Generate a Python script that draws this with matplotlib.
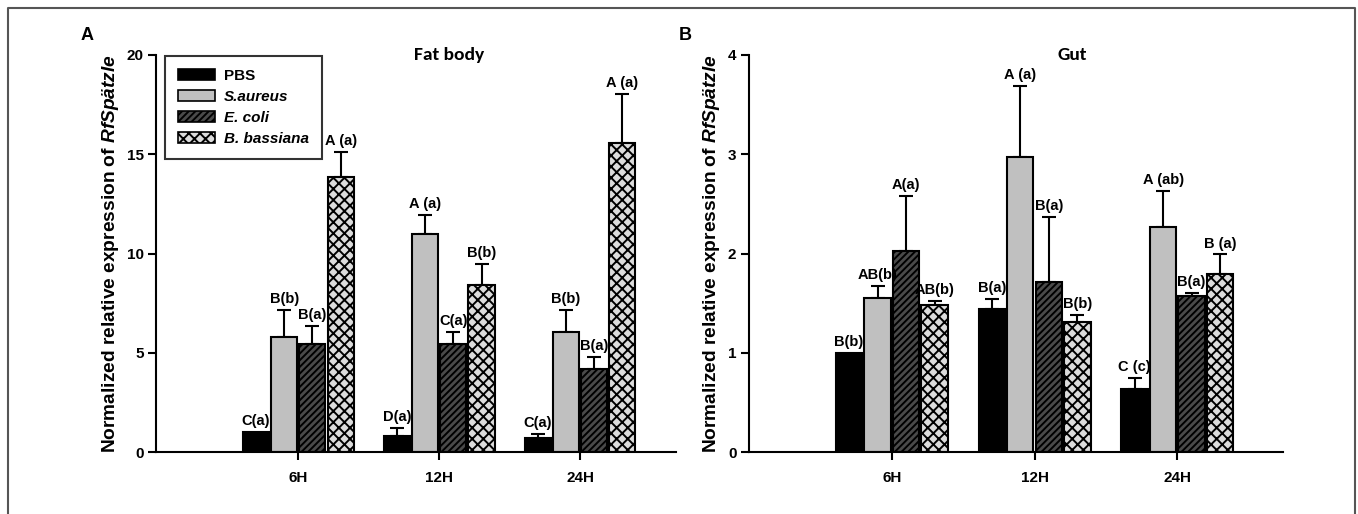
import numpy as np
import matplotlib
matplotlib.use("Agg")
import matplotlib.pyplot as plt
from matplotlib.patches import Patch
from matplotlib.lines import Line2D

plt.rcParams['font.family'] = ['Liberation Sans', 'DejaVu Sans']
plt.rcParams['mathtext.fontset'] = 'custom'
plt.rcParams['mathtext.it'] = 'Liberation Sans:italic:bold'
plt.rcParams['mathtext.rm'] = 'Liberation Sans:bold'
plt.rcParams['hatch.linewidth'] = 1.4

timepoints = ["6H", "12H", "24H"]
treatments = ["PBS", "S.aureus", "E. coli", "B. bassiana"]

# Fat body (panel A)
fat_mean = {
    "PBS":         [1.00, 0.82, 0.72],
    "S.aureus":    [5.80, 10.96, 6.05],
    "E. coli":     [5.46, 5.46, 4.17],
    "B. bassiana": [13.83, 8.40, 15.55],
}
fat_err = {
    "PBS":         [0.00, 0.39, 0.20],
    "S.aureus":    [1.34, 0.97, 1.09],
    "E. coli":     [0.88, 0.57, 0.62],
    "B. bassiana": [1.26, 1.05, 2.50],
}
fat_labels = {
    "PBS":         ["C(a)", "D(a)", "C(a)"],
    "S.aureus":    ["B(b)", "A (a)", "B(b)"],
    "E. coli":     ["B(a)", "C(a)", "B(a)"],
    "B. bassiana": ["A (a)", "B(b)", "A (a)"],
}

# Gut (panel B)
gut_mean = {
    "PBS":         [1.00, 1.44, 0.635],
    "S.aureus":    [1.556, 2.975, 2.269],
    "E. coli":     [2.027, 1.711, 1.570],
    "B. bassiana": [1.479, 1.311, 1.798],
}
gut_err = {
    "PBS":         [0.00, 0.105, 0.108],
    "S.aureus":    [0.121, 0.712, 0.363],
    "E. coli":     [0.551, 0.655, 0.037],
    "B. bassiana": [0.040, 0.071, 0.192],
}
gut_labels = {
    "PBS":         ["B(b)", "B(a)", "C (c)"],
    "S.aureus":    ["AB(b)", "A (a)", "A (ab)"],
    "E. coli":     ["A(a)", "B(a)", "B(a)"],
    "B. bassiana": ["AB(b)", "B(b)", "B (a)"],
}

styles = {
    "PBS":         dict(facecolor="#000000", hatch=None),
    "S.aureus":    dict(facecolor="#c0c0c0", hatch=None),
    "E. coli":     dict(facecolor="#4a4a4a", hatch="/////"),
    "B. bassiana": dict(facecolor="#dcdcdc", hatch="xxx"),
}
italic_names = {"PBS": False, "S.aureus": True, "E. coli": True, "B. bassiana": True}

W, H = 1358, 514
fig = plt.figure(figsize=(W / 100, H / 100), dpi=100)
axA = fig.add_axes([156 / W, 1 - 452 / H, 520 / W, 397 / H])
axB = fig.add_axes([749 / W, 1 - 452 / H, 534 / W, 397 / H])

ylabel = r"Normalized relative expression of $\mathit{RfSpätzle}$"


def draw(ax, means, errs, labels, ymax, yticks, title, xlim, lab_off, title_x):
    x = np.arange(len(timepoints))
    step = 0.2
    width = 0.185
    for i, t in enumerate(treatments):
        pos = x + (i - 1.5) * step
        st = styles[t]
        ax.bar(pos, means[t], width=width, facecolor=st["facecolor"],
               edgecolor="black", linewidth=1.5, hatch=st["hatch"], zorder=2)
        e = np.array(errs[t])
        m = np.array(means[t])
        has = e > 0
        ax.errorbar(pos[has], m[has], yerr=[np.zeros(has.sum()), e[has]],
                    fmt="none", ecolor="black", elinewidth=1.5, capsize=5,
                    capthick=1.5, zorder=1)
        for j in range(len(x)):
            ax.text(pos[j], m[j] + e[j] + lab_off, labels[t][j],
                    ha="center", va="bottom", fontsize=10.5, fontweight="bold")
    ax.set_xlim(*xlim)
    ax.set_ylim(0, ymax)
    ax.set_yticks(yticks)
    ax.set_yticklabels([str(v) for v in yticks], fontsize=11, fontweight="bold")
    ax.set_xticks(x)
    ax.set_xticklabels(timepoints, fontsize=11, fontweight="bold")
    ax.spines["top"].set_visible(False)
    ax.spines["right"].set_visible(False)
    ax.spines["left"].set_linewidth(1.5)
    ax.spines["bottom"].set_linewidth(1.5)
    ax.tick_params(axis="y", direction="out", length=6, width=1.5, pad=3)
    ax.tick_params(axis="x", direction="out", length=6, width=1.5, pad=8)
    ax.set_ylabel(ylabel, fontsize=13.8, fontweight="bold", labelpad=4)
    ax.text(title_x, 1.0, title, transform=ax.transAxes, ha="center",
            va="center", fontsize=14, fontweight="bold",
            family=["Carlito", "Open Sans", "Liberation Sans"])


draw(axA, fat_mean, fat_err, fat_labels, 20, [0, 5, 10, 15, 20], "Fat body",
     (-1.01, 2.68), 0.2, (449 - 156) / 520)
draw(axB, gut_mean, gut_err, gut_labels, 4, [0, 1, 2, 3, 4], "Gut",
     (-1.0, 2.74), 0.04, (1072 - 749) / 534)

handles = [Patch(facecolor=styles[t]["facecolor"], edgecolor="black",
                 linewidth=1.2, hatch=styles[t]["hatch"]) for t in treatments]
leg = axA.legend(handles, treatments, loc="upper left",
                 bbox_to_anchor=(9 / 520, 0.997), frameon=True, fancybox=False,
                 edgecolor="black", handlelength=2.4, handleheight=0.75,
                 borderpad=0.85, labelspacing=0.45, handletextpad=0.6,
                 borderaxespad=0.0,
                 prop=dict(size=11, weight="bold"))
leg.get_frame().set_linewidth(1.5)
for txt, t in zip(leg.get_texts(), treatments):
    if italic_names[t]:
        txt.set_fontstyle("italic")

fig.text(87 / W, 1 - 35 / H, "A", fontsize=13, fontweight="bold",
         ha="center", va="center")
fig.text(685 / W, 1 - 35 / H, "B", fontsize=13, fontweight="bold",
         ha="center", va="center")

# thin grey frame around the figure (open at the bottom)
fx = [8 / W, 8 / W, 1355 / W, 1355 / W]
fy = [0.0, 1 - 8 / H, 1 - 8 / H, 0.0]
fig.add_artist(Line2D(fx, fy, transform=fig.transFigure, color="#555555",
                      linewidth=1.5))

fig.savefig("out.png", dpi=100)
